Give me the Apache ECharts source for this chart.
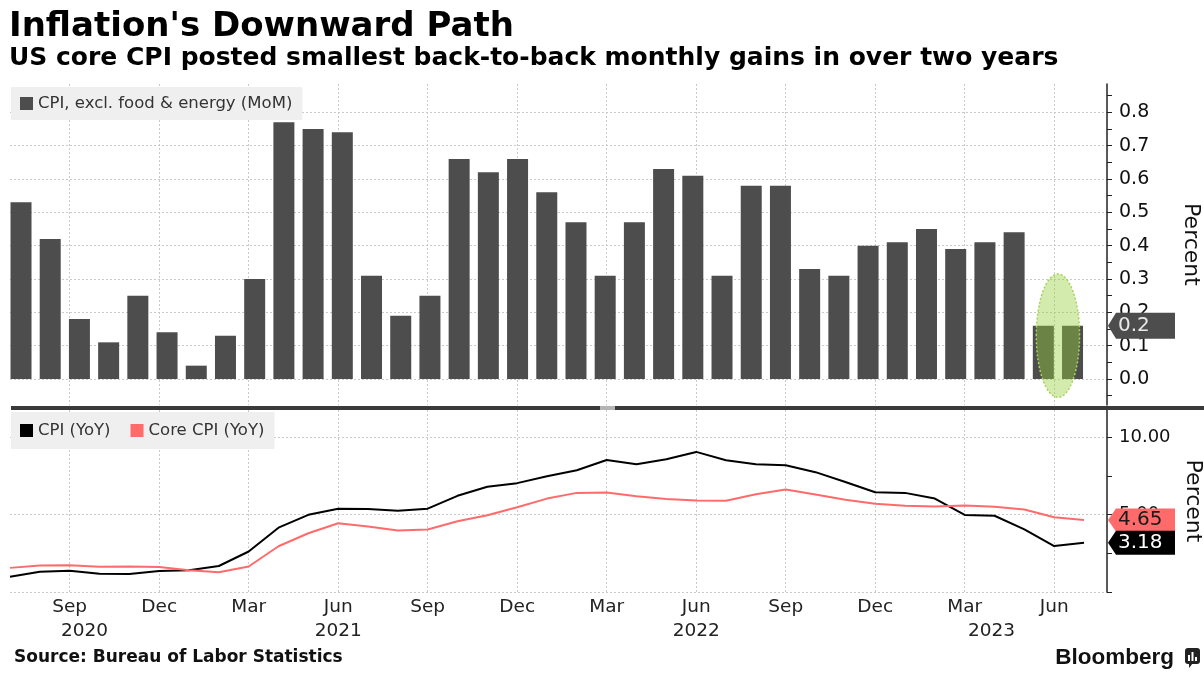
<!DOCTYPE html>
<html>
<head>
<meta charset="utf-8">
<title>Inflation's Downward Path</title>
<script src="https://cdn.jsdelivr.net/npm/echarts@6.0.0/dist/echarts.min.js"></script>
<style>
html, body { margin: 0; padding: 0; background: #fff; }
#main { width: 1204px; height: 680px; }
</style>
</head>
<body>
<div id="main"></div>
<script>
// monthly observations, Jul 2020 - Jul 2023
var months = [
    '2020-07','2020-08','2020-09','2020-10','2020-11','2020-12',
    '2021-01','2021-02','2021-03','2021-04','2021-05','2021-06',
    '2021-07','2021-08','2021-09','2021-10','2021-11','2021-12',
    '2022-01','2022-02','2022-03','2022-04','2022-05','2022-06',
    '2022-07','2022-08','2022-09','2022-10','2022-11','2022-12',
    '2023-01','2023-02','2023-03','2023-04','2023-05','2023-06',
    '2023-07'
];
// CPI, excl. food & energy (MoM), percent
var coreMoM = [
    0.53, 0.42, 0.18, 0.11, 0.25, 0.14,
    0.04, 0.13, 0.30, 0.77, 0.75, 0.74,
    0.31, 0.19, 0.25, 0.66, 0.62, 0.66,
    0.56, 0.47, 0.31, 0.47, 0.63, 0.61,
    0.31, 0.58, 0.58, 0.33, 0.31, 0.40,
    0.41, 0.45, 0.39, 0.41, 0.44, 0.16,
    0.16
];
// CPI (YoY), percent
var cpiYoY = [
    0.99, 1.31, 1.37, 1.18, 1.17, 1.36,
    1.40, 1.68, 2.62, 4.16, 4.99, 5.39,
    5.37, 5.25, 5.39, 6.22, 6.81, 7.04,
    7.48, 7.87, 8.54, 8.26, 8.58, 9.06,
    8.52, 8.26, 8.20, 7.75, 7.11, 6.45,
    6.41, 6.04, 4.98, 4.93, 4.05, 2.97,
    3.18
];
// Core CPI (YoY), percent
var coreYoY = [
    1.56, 1.72, 1.73, 1.63, 1.65, 1.62,
    1.40, 1.28, 1.65, 2.96, 3.80, 4.45,
    4.24, 3.98, 4.04, 4.58, 4.96, 5.48,
    6.04, 6.41, 6.44, 6.19, 6.02, 5.91,
    5.90, 6.32, 6.63, 6.30, 5.96, 5.71,
    5.58, 5.53, 5.59, 5.52, 5.33, 4.83,
    4.65
];
// tick labels
var quarterMonths = ['2020-09','2020-12','2021-03','2021-06','2021-09','2021-12',
                     '2022-03','2022-06','2022-09','2022-12','2023-03','2023-06'];
var monthNames = ['Jan','Feb','Mar','Apr','May','Jun','Jul','Aug','Sep','Oct','Nov','Dec'];
var topLabels = [0, 0.1, 0.2, 0.3, 0.4, 0.5, 0.6, 0.7, 0.8];
var topTicks = [-0.05, 0, 0.05, 0.1, 0.15, 0.2, 0.25, 0.3, 0.35, 0.4, 0.45, 0.5,
                0.55, 0.6, 0.65, 0.7, 0.75, 0.8, 0.85];
var bottomGrid = [0, 5, 10];
var bottomLabels = [5, 10];
var bottomTicks = [0, 2.5, 5, 7.5, 10];

// layout
var AXIS_X = 1107;
var FONT = '"DejaVu Sans", Verdana, sans-serif';
var GRID_LINE = { color: '#c9c9c9', width: 1, type: [2, 2] };
var yearLabelAt = [2.5, 11, 23, 32.9];      // where the year row sits, in month index

var quarterIdx = quarterMonths.map(function (m) { return months.indexOf(m); });

var myChart = echarts.init(document.getElementById('main'));

var option = {
    animation: false,
    backgroundColor: '#fff',
    title: [{
        text: "Inflation's Downward Path",
        left: 9, top: 10, padding: 0,
        textStyle: { fontFamily: FONT, fontSize: 34, fontWeight: 'bold', color: '#000' }
    }, {
        text: 'US core CPI posted smallest back-to-back monthly gains in over two years',
        left: 9, top: 46, padding: 0,
        textStyle: { fontFamily: FONT, fontSize: 25, fontWeight: 'bold', color: '#000' }
    }],
    legend: [{
        data: ['CPI, excl. food & energy (MoM)'],
        left: 11, top: 87,
        padding: [8, 10, 8, 9],
        backgroundColor: '#efefef',
        icon: 'rect', itemWidth: 13, itemHeight: 13,
        selectedMode: false,
        textStyle: { fontFamily: FONT, fontSize: 16.5, color: '#333', lineHeight: 17 }
    }, {
        data: ['CPI (YoY)', 'Core CPI (YoY)'],
        left: 11, top: 412,
        padding: [10, 10, 10, 9],
        backgroundColor: '#efefef',
        icon: 'rect', itemWidth: 13, itemHeight: 13, itemGap: 20,
        selectedMode: false,
        textStyle: { fontFamily: FONT, fontSize: 16.5, color: '#333', lineHeight: 17 }
    }],
    grid: [
        { left: 10, right: 1204 - AXIS_X, top: 84, height: 321, outerBoundsMode: 'none' },
        { left: 10, right: 1204 - AXIS_X, top: 410, height: 182, outerBoundsMode: 'none' }
    ],
    xAxis: [{
        // bars, evenly spaced by index
        gridIndex: 0, type: 'value', min: -0.377, max: 37.18, show: false,
        axisLine: { onZero: false }
    }, {
        // month scale for the top panel's vertical gridlines
        gridIndex: 0, type: 'value', min: 0, max: 36.77,
        axisLine: { show: false, onZero: false },
        axisTick: { show: false, customValues: quarterIdx },
        axisLabel: { show: false },
        splitLine: { show: true, lineStyle: GRID_LINE }
    }, {
        gridIndex: 1, type: 'value', min: 0, max: 36.77,
        axisLine: { show: false, onZero: false },
        axisTick: { show: false, customValues: quarterIdx },
        axisLabel: {
            customValues: quarterIdx,
            margin: 6,
            fontFamily: FONT, fontSize: 18.5, color: '#222',
            formatter: function (v) {
                return monthNames[parseInt(months[Math.round(v)].slice(5), 10) - 1];
            }
        },
        splitLine: { show: true, lineStyle: GRID_LINE }
    }, {
        // year row
        gridIndex: 1, type: 'value', min: 0, max: 36.77, position: 'bottom',
        axisLine: { show: false, onZero: false },
        axisTick: { show: false },
        splitLine: { show: false },
        axisLabel: {
            customValues: yearLabelAt,
            margin: 30,
            fontFamily: FONT, fontSize: 18.5, color: '#222',
            formatter: function (v) { return months[Math.floor(v)].slice(0, 4); }
        }
    }],
    yAxis: [{
        gridIndex: 0, type: 'value', position: 'right', min: -0.078, max: 0.885,
        axisLine: { show: true, onZero: false, lineStyle: { color: '#222', width: 1.5 } },
        axisTick: { show: true, length: 5, customValues: topTicks, lineStyle: { color: '#222' } },
        splitLine: { show: false },
        axisLabel: {
            customValues: topLabels, margin: 12,
            fontFamily: FONT, fontSize: 19, color: '#111',
            formatter: function (v) { return v.toFixed(1); }
        },
        name: 'Percent', nameLocation: 'middle', nameRotate: -90, nameGap: 73,
        nameTextStyle: { fontFamily: FONT, fontSize: 22, color: '#111' }
    }, {
        // horizontal gridlines only
        gridIndex: 0, type: 'value', position: 'left', min: -0.078, max: 0.885,
        axisLine: { show: false, onZero: false },
        axisTick: { show: false, customValues: topLabels },
        axisLabel: { show: false },
        splitLine: { show: true, lineStyle: GRID_LINE }
    }, {
        gridIndex: 1, type: 'value', position: 'right', min: 0, max: 11.77,
        axisLine: { show: true, onZero: false, lineStyle: { color: '#222', width: 1.5 } },
        axisTick: { show: true, length: 5, customValues: bottomTicks, lineStyle: { color: '#222' } },
        splitLine: { show: false },
        axisLabel: {
            customValues: bottomLabels, margin: 12,
            fontFamily: FONT, fontSize: 18, color: '#111',
            formatter: function (v) { return v.toFixed(2); }
        },
        name: 'Percent', nameLocation: 'middle', nameRotate: -90, nameGap: 73,
        nameTextStyle: { fontFamily: FONT, fontSize: 22, color: '#111' }
    }, {
        gridIndex: 1, type: 'value', position: 'left', min: 0, max: 11.77,
        axisLine: { show: false, onZero: false },
        axisTick: { show: false, customValues: bottomGrid },
        axisLabel: { show: false },
        splitLine: { show: true, lineStyle: GRID_LINE }
    }],
    series: [{
        name: 'CPI, excl. food & energy (MoM)',
        type: 'bar',
        xAxisIndex: 0, yAxisIndex: 0,
        barWidth: 21,
        itemStyle: { color: '#4d4d4d' },
        data: coreMoM.map(function (v, i) { return [i, v]; })
    }, {
        name: 'CPI (YoY)',
        type: 'line',
        xAxisIndex: 2, yAxisIndex: 2,
        symbol: 'none',
        itemStyle: { color: '#000' },
        lineStyle: { color: '#000', width: 2 },
        data: cpiYoY.map(function (v, i) { return [i, v]; })
    }, {
        name: 'Core CPI (YoY)',
        type: 'line',
        xAxisIndex: 2, yAxisIndex: 2,
        symbol: 'none',
        itemStyle: { color: '#ff6b6b' },
        lineStyle: { color: '#ff6b6b', width: 2 },
        data: coreYoY.map(function (v, i) { return [i, v]; })
    }]
};

myChart.setOption(option);

// last-value tags sitting on the right axes
function tag(y, h, fill, text, textColor) {
    return [{
        type: 'polygon', z: 100,
        shape: { points: [[AXIS_X + 1, y], [AXIS_X + 9, y - h / 2], [1175, y - h / 2],
                          [1175, y + h / 2], [AXIS_X + 9, y + h / 2]] },
        style: { fill: fill }
    }, {
        type: 'text', z: 101, x: AXIS_X + 11, y: y,
        style: { text: text, fill: textColor, font: '20px ' + FONT, verticalAlign: 'middle' }
    }];
}

var last = months.length - 1;
var yMoM = myChart.convertToPixel({ yAxisIndex: 0 }, coreMoM[last]);
var yCpi = myChart.convertToPixel({ yAxisIndex: 2 }, cpiYoY[last]);
var yCore = myChart.convertToPixel({ yAxisIndex: 2 }, coreYoY[last]);

// highlight round the last two bars
var hlA = myChart.convertToPixel({ xAxisIndex: 0, yAxisIndex: 0 }, [last - 1.24, 0.315]);
var hlB = myChart.convertToPixel({ xAxisIndex: 0, yAxisIndex: 0 }, [last + 0.24, -0.055]);

var graphics = [{
    type: 'ellipse', z: 50,
    shape: { cx: (hlA[0] + hlB[0]) / 2, cy: (hlA[1] + hlB[1]) / 2,
             rx: (hlB[0] - hlA[0]) / 2, ry: (hlB[1] - hlA[1]) / 2 },
    style: { fill: 'rgba(150,210,60,0.42)', stroke: '#a6d45a', lineWidth: 1.5, lineDash: [2, 2] }
}, {
    // panel separator
    type: 'rect', z: 60,
    shape: { x: 11, y: 406, width: 1193, height: 4 },
    style: { fill: '#3a3a3a' }
}, {
    type: 'rect', z: 61,
    shape: { x: 600, y: 406, width: 15, height: 4 },
    style: { fill: '#b4b4b4' }
}, {
    type: 'text', x: 14, y: 658,
    style: { text: 'Source: Bureau of Labor Statistics', fill: '#111',
             font: 'bold 17px ' + FONT, verticalAlign: 'middle' }
}, {
    type: 'text', x: 1174, y: 658,
    style: { text: 'Bloomberg', fill: '#111', font: 'bold 22.5px "Liberation Sans", Arial, sans-serif',
             align: 'right', verticalAlign: 'middle' }
}, {
    type: 'rect', shape: { x: 1185, y: 648, width: 15, height: 16, r: 3 }, style: { fill: '#222' }
}, {
    type: 'polygon', shape: { points: [[1189, 663], [1193, 663], [1189, 668]] }, style: { fill: '#222' }
}, {
    type: 'rect', shape: { x: 1188, y: 655, width: 2, height: 6 }, style: { fill: '#fff' }
}, {
    type: 'rect', shape: { x: 1191.5, y: 652, width: 2, height: 9 }, style: { fill: '#fff' }
}, {
    type: 'rect', shape: { x: 1195, y: 657, width: 2, height: 4 }, style: { fill: '#fff' }
}];

graphics = graphics
    .concat(tag(yMoM, 26, '#4d4d4d', coreMoM[last].toFixed(1), '#e8e8e8'))
    .concat(tag(yCore, 23, '#ff6b6b', coreYoY[last].toFixed(2), '#1a1a1a'))
    .concat(tag(yCpi, 24, '#000', cpiYoY[last].toFixed(2), '#fff'));

myChart.setOption({ graphic: graphics });
</script>
</body>
</html>
